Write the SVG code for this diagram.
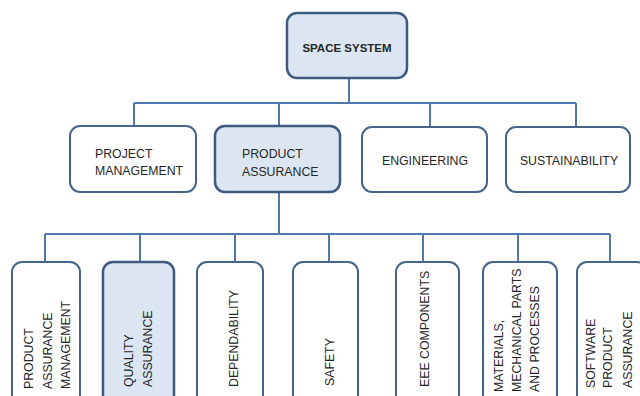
<svg xmlns="http://www.w3.org/2000/svg" width="640" height="396" viewBox="0 0 640 396">
<style>
.box{fill:#ffffff;stroke:#46648a;stroke-width:2}
.hl{fill:#dce6f2;stroke:#3e5a7e;stroke-width:2.5}
.t{font-family:"Liberation Sans",Arial,sans-serif;font-size:12.3px;fill:#262626}
.b{font-weight:bold;font-size:11.5px}
.c{fill:none;stroke:#4f79aa;stroke-width:2}
</style>
<rect width="640" height="396" fill="#ffffff"/>
<g id="connectors">
<path class="c" d="M349 78V103M134 103H576M134 103V126M279 103V126M430 103V127M576 103V127"/>
<path class="c" d="M279 192V234M45 234H610M45 234V262M140 234V262M235 234V262M329 234V262M423 234V262M518 234V262M610 234V262"/>
</g>
<g id="space-system">
<rect class="hl" x="287" y="13" width="120" height="65" rx="10"/>
<text class="t b" x="347" y="52" text-anchor="middle">SPACE SYSTEM</text>
</g>
<g id="project-management">
<rect class="box" x="70" y="126" width="126" height="66" rx="10"/>
<text class="t" x="95" y="158">PROJECT</text>
<text class="t" x="95" y="175">MANAGEMENT</text>
</g>
<g id="product-assurance">
<rect class="hl" x="215" y="126" width="125" height="66" rx="10"/>
<text class="t" x="242" y="158">PRODUCT</text>
<text class="t" x="242" y="176">ASSURANCE</text>
</g>
<g id="engineering">
<rect class="box" x="362" y="127" width="125" height="65" rx="10"/>
<text class="t" x="425" y="165" text-anchor="middle">ENGINEERING</text>
</g>
<g id="sustainability">
<rect class="box" x="506" y="127" width="124" height="65" rx="10"/>
<text class="t" x="569" y="165" text-anchor="middle">SUSTAINABILITY</text>
</g>
<g id="pa-management">
<rect class="box" x="12" y="262" width="68" height="150" rx="10"/>
<text class="t" transform="translate(33 389) rotate(-90)">PRODUCT</text>
<text class="t" transform="translate(52 389) rotate(-90)">ASSURANCE</text>
<text class="t" transform="translate(70 389) rotate(-90)">MANAGEMENT</text>
</g>
<g id="quality-assurance">
<rect class="hl" x="103" y="262" width="71" height="150" rx="10"/>
<text class="t" transform="translate(133 387) rotate(-90)">QUALITY</text>
<text class="t" transform="translate(152 387) rotate(-90)">ASSURANCE</text>
</g>
<g id="dependability">
<rect class="box" x="197" y="262" width="66" height="150" rx="10"/>
<text class="t" transform="translate(238 387) rotate(-90)">DEPENDABILITY</text>
</g>
<g id="safety">
<rect class="box" x="293" y="262" width="65" height="150" rx="10"/>
<text class="t" transform="translate(334 386) rotate(-90)">SAFETY</text>
</g>
<g id="eee-components">
<rect class="box" x="396" y="262" width="63" height="150" rx="10"/>
<text class="t" transform="translate(429 387) rotate(-90)">EEE COMPONENTS</text>
</g>
<g id="materials">
<rect class="box" x="483" y="262" width="74" height="150" rx="10"/>
<text class="t" transform="translate(503 392) rotate(-90)">MATERIALS,</text>
<text class="t" transform="translate(521 392) rotate(-90)">MECHANICAL PARTS</text>
<text class="t" transform="translate(539 392) rotate(-90)">AND PROCESSES</text>
</g>
<g id="software-pa">
<rect class="box" x="577" y="262" width="70" height="150" rx="10"/>
<text class="t" transform="translate(595 388) rotate(-90)">SOFTWARE</text>
<text class="t" transform="translate(612 388) rotate(-90)">PRODUCT</text>
<text class="t" transform="translate(632 388) rotate(-90)">ASSURANCE</text>
</g>
</svg>
